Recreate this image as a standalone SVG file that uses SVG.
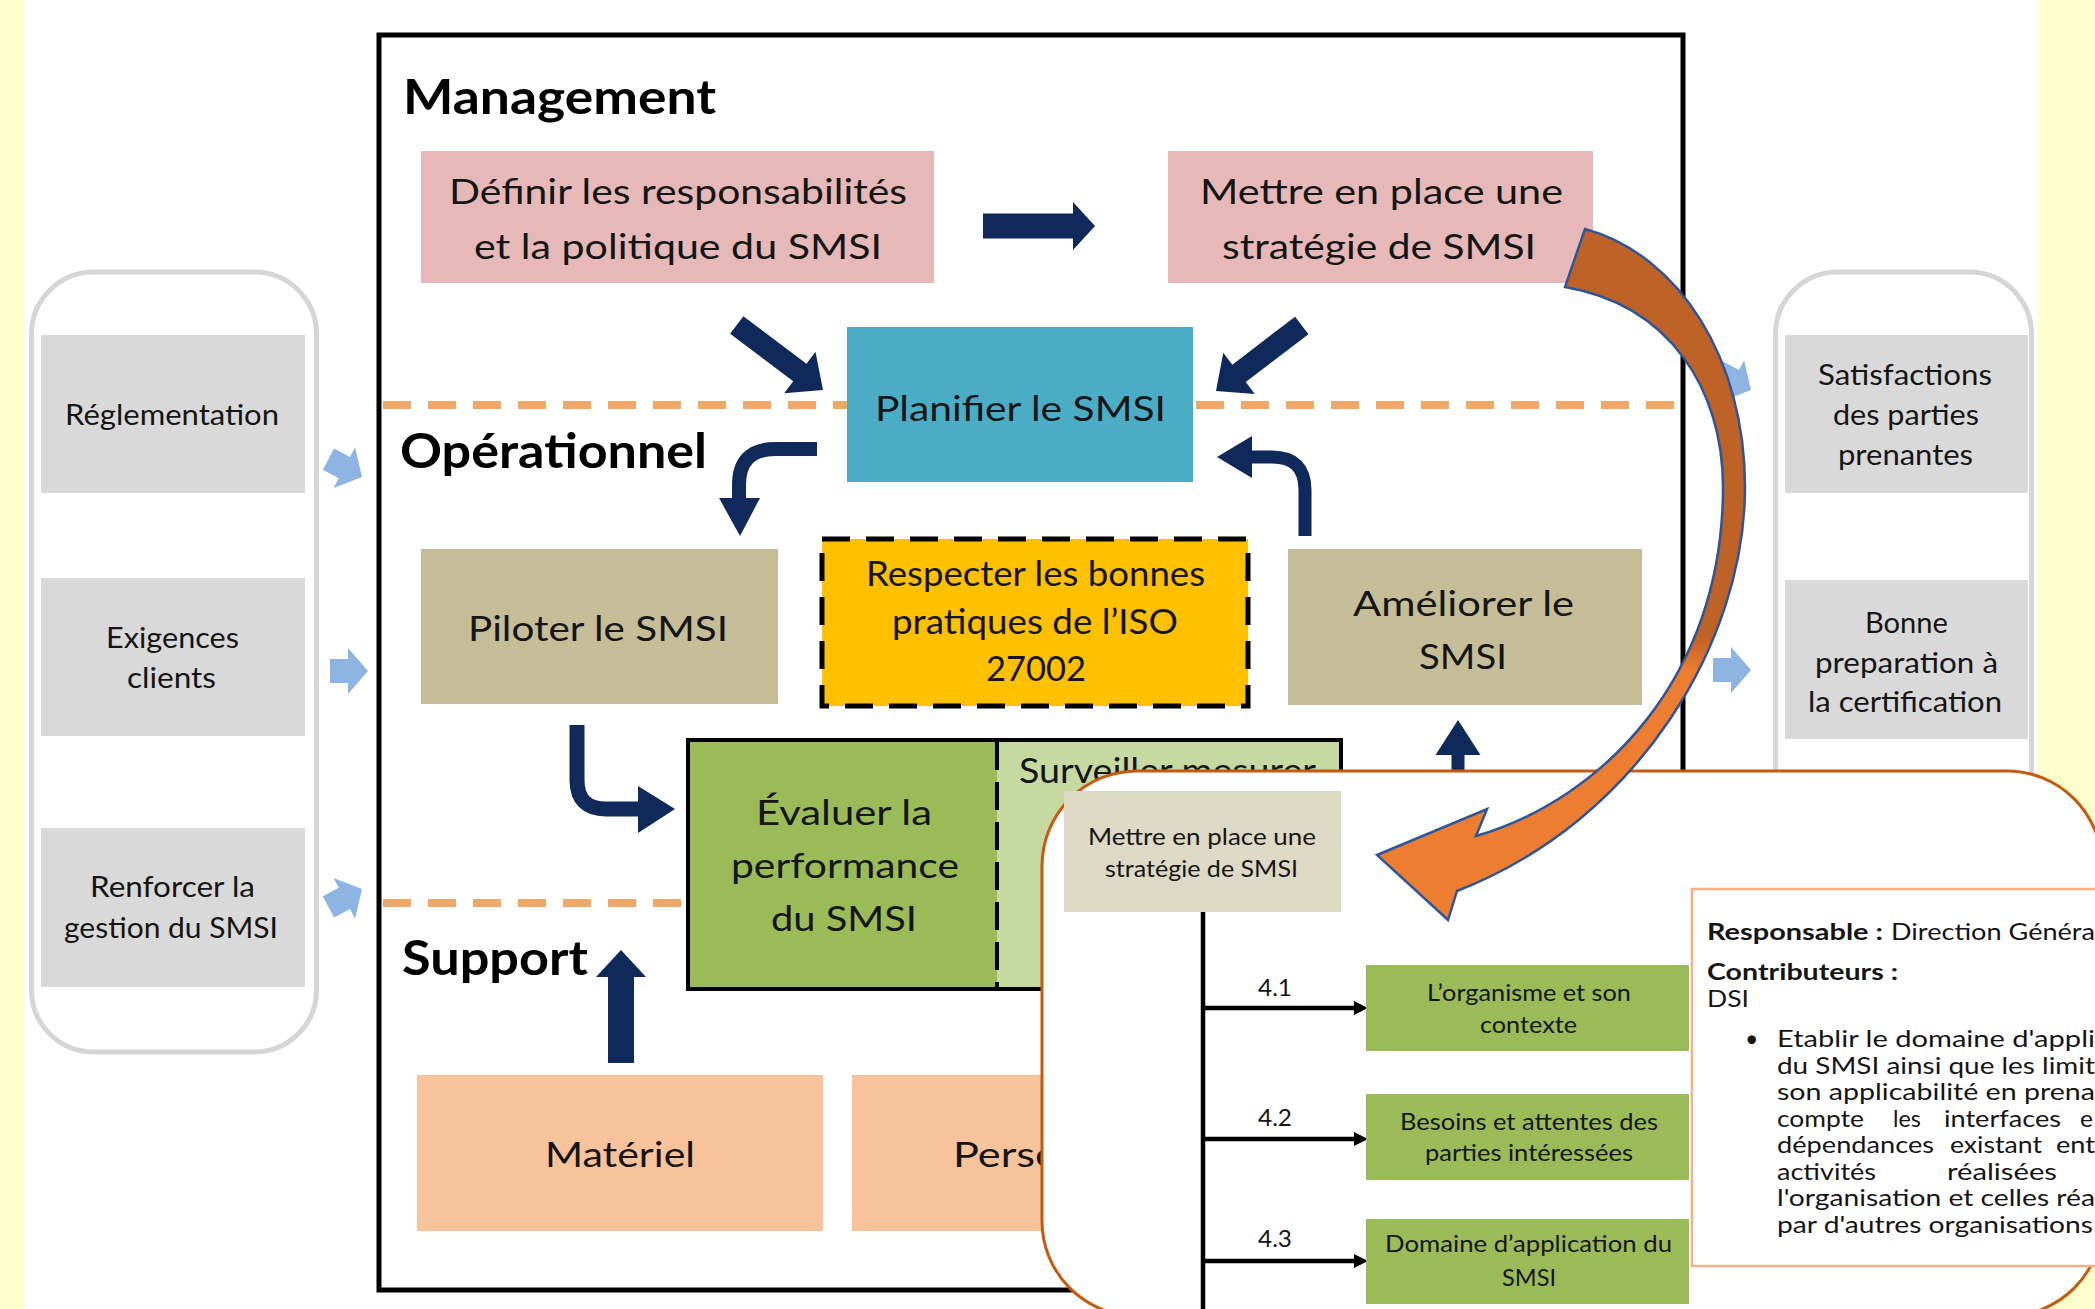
<svg xmlns="http://www.w3.org/2000/svg" width="2095" height="1309" viewBox="0 0 2095 1309">
<defs>
<style>
text{font-family:Lato,"Open Sans","Liberation Sans",sans-serif;fill:#151515}
.title{font-weight:700;font-size:48px;fill:#000}
.bx{font-size:35px}
.sd{font-size:29px}
.ov{font-size:23px}
.b{font-weight:700}
.navy{fill:#10295b}
.lb{fill:#8db4e2}
.dash{stroke:#f0a868;stroke-width:8;stroke-dasharray:28 17;fill:none}
</style>
<linearGradient id="og" gradientUnits="userSpaceOnUse" x1="0" y1="229" x2="0" y2="920">
<stop offset="0" stop-color="#bf6227"/>
<stop offset="0.59" stop-color="#bf6227"/>
<stop offset="0.64" stop-color="#ed7d31"/>
<stop offset="1" stop-color="#ed7d31"/>
</linearGradient>
</defs>

<rect x="0" y="0" width="2095" height="1309" fill="#ffffcc"/>
<rect x="24" y="0" width="2014" height="1309" fill="#ffffff"/>

<!-- side panels -->
<g id="panel-left">
<rect x="31.5" y="272" width="285" height="780" rx="62" fill="#fff" stroke="#d6d6d6" stroke-width="5"/>
</g>
<g id="panel-right">
<rect x="1775.5" y="272" width="256" height="780" rx="62" fill="#fff" stroke="#d6d6d6" stroke-width="5"/>
</g>
<g id="in-reglementation"><rect x="41" y="335" width="264" height="158" fill="#d9d9d9"/>
<text class="sd" x="65" y="425" textLength="214" lengthAdjust="spacingAndGlyphs">Réglementation</text></g>
<g id="in-exigences"><rect x="41" y="578" width="264" height="158" fill="#d9d9d9"/>
<text class="sd" x="106" y="648" textLength="133" lengthAdjust="spacingAndGlyphs">Exigences</text>
<text class="sd" x="127" y="688" textLength="89" lengthAdjust="spacingAndGlyphs">clients</text></g>
<g id="in-renforcer"><rect x="41" y="828" width="264" height="159" fill="#d9d9d9"/>
<text class="sd" x="90" y="897" textLength="165" lengthAdjust="spacingAndGlyphs">Renforcer la</text>
<text class="sd" x="64" y="938" textLength="214" lengthAdjust="spacingAndGlyphs">gestion du SMSI</text></g>
<g id="out-satisfactions"><rect x="1785" y="335" width="243" height="158" fill="#d9d9d9"/>
<text class="sd" x="1818" y="385" textLength="174" lengthAdjust="spacingAndGlyphs">Satisfactions</text>
<text class="sd" x="1833" y="425" textLength="146" lengthAdjust="spacingAndGlyphs">des parties</text>
<text class="sd" x="1838" y="465" textLength="135" lengthAdjust="spacingAndGlyphs">prenantes</text></g>
<g id="out-certification"><rect x="1785" y="580" width="243" height="159" fill="#d9d9d9"/>
<text class="sd" x="1865" y="633" textLength="83" lengthAdjust="spacingAndGlyphs">Bonne</text>
<text class="sd" x="1815" y="673" textLength="183" lengthAdjust="spacingAndGlyphs">preparation à</text>
<text class="sd" x="1808" y="712" textLength="194" lengthAdjust="spacingAndGlyphs">la certification</text></g>

<!-- main frame -->
<g id="frame">
<rect x="379" y="35" width="1304" height="1255" fill="#fff" stroke="#000" stroke-width="5"/>
<line class="dash" x1="383" y1="405" x2="847" y2="405"/>
<line class="dash" x1="1196" y1="405" x2="1680" y2="405"/>
<line class="dash" x1="383" y1="903" x2="686" y2="903"/>
<text class="title" x="403" y="114" textLength="313" lengthAdjust="spacingAndGlyphs">Management</text>
<text class="title" x="400" y="468" textLength="307" lengthAdjust="spacingAndGlyphs">Opérationnel</text>
<text class="title" x="402" y="975" textLength="186" lengthAdjust="spacingAndGlyphs">Support</text>
</g>

<g id="definir"><rect x="421" y="151" width="513" height="132" fill="#e6b9b8"/>
<text class="bx" x="449" y="204" textLength="458" lengthAdjust="spacingAndGlyphs">Définir les responsabilités</text>
<text class="bx" x="474" y="259" textLength="408" lengthAdjust="spacingAndGlyphs">et la politique du SMSI</text></g>
<g id="strategie"><rect x="1168" y="151" width="425" height="132" fill="#e6b9b8"/>
<text class="bx" x="1200" y="204" textLength="363" lengthAdjust="spacingAndGlyphs">Mettre en place une</text>
<text class="bx" x="1222" y="259" textLength="314" lengthAdjust="spacingAndGlyphs">stratégie de SMSI</text></g>
<g id="planifier"><rect x="847" y="327" width="346" height="155" fill="#4bacc6"/>
<text class="bx" x="875" y="421" textLength="291" lengthAdjust="spacingAndGlyphs">Planifier le SMSI</text></g>
<g id="piloter"><rect x="421" y="549" width="357" height="155" fill="#c4bd97"/>
<text class="bx" x="468" y="641" textLength="260" lengthAdjust="spacingAndGlyphs">Piloter le SMSI</text></g>
<g id="respecter"><rect x="822" y="539" width="426" height="167" fill="#ffc000" stroke="#000" stroke-width="5" stroke-dasharray="28 16"/>
<text class="bx" x="866" y="586" textLength="339" lengthAdjust="spacingAndGlyphs">Respecter les bonnes</text>
<text class="bx" x="892" y="634" textLength="286" lengthAdjust="spacingAndGlyphs">pratiques de l’ISO</text>
<text class="bx" x="986" y="681" textLength="100" lengthAdjust="spacingAndGlyphs">27002</text></g>
<g id="ameliorer"><rect x="1288" y="549" width="354" height="156" fill="#c4bd97"/>
<text class="bx" x="1353" y="616" textLength="221" lengthAdjust="spacingAndGlyphs">Améliorer le</text>
<text class="bx" x="1419" y="669" textLength="88" lengthAdjust="spacingAndGlyphs">SMSI</text></g>
<g id="evaluer">
<rect x="688" y="740" width="309" height="249" fill="#9bbb59"/>
<rect x="997" y="740" width="344" height="249" fill="#c6d9a0"/>
<rect x="688" y="740" width="653" height="249" fill="none" stroke="#000" stroke-width="4"/>
<line x1="997" y1="742" x2="997" y2="989" stroke="#000" stroke-width="4" stroke-dasharray="28 12"/>
<text class="bx" x="756" y="825" textLength="176" lengthAdjust="spacingAndGlyphs">Évaluer la</text>
<text class="bx" x="731" y="878" textLength="228" lengthAdjust="spacingAndGlyphs">performance</text>
<text class="bx" x="771" y="931" textLength="146" lengthAdjust="spacingAndGlyphs">du SMSI</text>
<text class="bx" x="1019" y="783" textLength="297" lengthAdjust="spacingAndGlyphs">Surveiller mesurer</text>
</g>
<g id="materiel"><rect x="417" y="1075" width="406" height="156" fill="#f8c39b"/>
<text class="bx" x="545" y="1167" textLength="150" lengthAdjust="spacingAndGlyphs">Matériel</text></g>
<g id="personnel"><rect x="852" y="1075" width="406" height="156" fill="#f8c39b"/>
<text class="bx" x="953" y="1167" textLength="188" lengthAdjust="spacingAndGlyphs">Personnel</text></g>

<!-- connectors -->
<g id="connectors">
<path class="lb" transform="translate(362,477) rotate(28)" d="M-38,-12 L-20,-12 L-20,-23 L0,0 L-20,23 L-20,12 L-38,12 Z"/>
<path class="lb" transform="translate(368,671)" d="M-38,-12 L-20,-12 L-20,-23 L0,0 L-20,23 L-20,12 L-38,12 Z"/>
<path class="lb" transform="translate(362,889) rotate(-28)" d="M-38,-12 L-20,-12 L-20,-23 L0,0 L-20,23 L-20,12 L-38,12 Z"/>
<path class="lb" transform="translate(1751,390) rotate(28)" d="M-38,-12 L-20,-12 L-20,-23 L0,0 L-20,23 L-20,12 L-38,12 Z"/>
<path class="lb" transform="translate(1751,670)" d="M-38,-12 L-20,-12 L-20,-23 L0,0 L-20,23 L-20,12 L-38,12 Z"/>

<path class="navy" transform="translate(1095,226)" d="M-112,-12.5 L-22,-12.5 L-22,-24 L0,0 L-22,24 L-22,12.5 L-112,12.5 Z"/>
<path class="navy" transform="translate(823,390) rotate(37)" d="M-108,-11 L-29,-11 L-29,-26 L0,0 L-29,26 L-29,11 L-108,11 Z"/>
<path class="navy" transform="translate(1216,391) rotate(142.6)" d="M-108,-11 L-29,-11 L-29,-26 L0,0 L-29,26 L-29,11 L-108,11 Z"/>
<path class="navy" transform="translate(621,950) rotate(-90)" d="M-113,-13 L-27,-13 L-27,-25 L0,0 L-27,25 L-27,13 L-113,13 Z"/>
<path class="navy" transform="translate(1458,720) rotate(-90)" d="M-55,-6.5 L-35,-6.5 L-35,-22.5 L0,0 L-35,22.5 L-35,6.5 L-55,6.5 Z"/>

<path d="M817,449 L775,449 Q739,449 739,485 L739,500" fill="none" stroke="#10295b" stroke-width="14"/>
<polygon class="navy" points="719,498 760,498 740,536"/>
<path d="M1305,536 L1305,490 Q1305,457 1272,457 L1250,457" fill="none" stroke="#10295b" stroke-width="13"/>
<polygon class="navy" points="1252,436 1252,478 1217,457"/>
<path d="M577,725 L577,780 Q577,809 606,809 L640,809" fill="none" stroke="#10295b" stroke-width="15"/>
<polygon class="navy" points="638,786 638,833 675,809"/>
</g>

<!-- zoom overlay -->
<g id="overlay">
<rect x="1042" y="771" width="1060" height="545" rx="95" fill="#fff" stroke="#c55a11" stroke-width="3"/>
<g id="ov-strategie"><rect x="1064" y="791" width="277" height="121" fill="#ddd9c4"/>
<text class="ov" x="1088" y="845" textLength="228" lengthAdjust="spacingAndGlyphs">Mettre en place une</text>
<text class="ov" x="1105" y="877" textLength="193" lengthAdjust="spacingAndGlyphs">stratégie de SMSI</text></g>
<g id="ov-connectors" stroke="#000" stroke-width="4.5" fill="none">
<line x1="1203" y1="912" x2="1203" y2="1312"/>
<line x1="1201" y1="1008" x2="1356" y2="1008"/>
<line x1="1201" y1="1139" x2="1356" y2="1139"/>
<line x1="1201" y1="1261" x2="1356" y2="1261"/>
<polygon points="1354,1001 1368,1008 1354,1015" fill="#000" stroke="none"/>
<polygon points="1354,1132 1368,1139 1354,1146" fill="#000" stroke="none"/>
<polygon points="1354,1254 1368,1261 1354,1268" fill="#000" stroke="none"/>
</g>
<text class="ov" x="1258" y="996" textLength="34" lengthAdjust="spacingAndGlyphs">4.1</text>
<text class="ov" x="1258" y="1126" textLength="34" lengthAdjust="spacingAndGlyphs">4.2</text>
<text class="ov" x="1258" y="1247" textLength="34" lengthAdjust="spacingAndGlyphs">4.3</text>
<g id="ov-organisme"><rect x="1366" y="965" width="323" height="86" fill="#9bbb59"/>
<text class="ov" x="1427" y="1001" textLength="204" lengthAdjust="spacingAndGlyphs">L’organisme et son</text>
<text class="ov" x="1480" y="1033" textLength="97" lengthAdjust="spacingAndGlyphs">contexte</text></g>
<g id="ov-besoins"><rect x="1366" y="1094" width="323" height="86" fill="#9bbb59"/>
<text class="ov" x="1400" y="1130" textLength="258" lengthAdjust="spacingAndGlyphs">Besoins et attentes des</text>
<text class="ov" x="1425" y="1161" textLength="208" lengthAdjust="spacingAndGlyphs">parties intéressées</text></g>
<g id="ov-domaine"><rect x="1366" y="1219" width="323" height="85" fill="#9bbb59"/>
<text class="ov" x="1385" y="1252" textLength="287" lengthAdjust="spacingAndGlyphs">Domaine d’application du</text>
<text class="ov" x="1502" y="1286" textLength="54" lengthAdjust="spacingAndGlyphs">SMSI</text></g>
<g id="ov-fiche">
<rect x="1692" y="889" width="420" height="377" fill="#fff" stroke="#f4b183" stroke-width="2.5"/>
<text class="ov b" x="1707" y="940" textLength="176" lengthAdjust="spacingAndGlyphs">Responsable :</text>
<text class="ov" x="1891" y="940" textLength="204" lengthAdjust="spacingAndGlyphs">Direction Généra</text>
<text class="ov b" x="1707" y="980" textLength="191" lengthAdjust="spacingAndGlyphs">Contributeurs :</text>
<text class="ov" x="1707" y="1007" textLength="42" lengthAdjust="spacingAndGlyphs">DSI</text>
<text class="ov" x="1745" y="1047">•</text>
<text class="ov" x="1777" y="1047" textLength="318" lengthAdjust="spacingAndGlyphs">Etablir le domaine d'appli</text>
<text class="ov" x="1777" y="1074" textLength="318" lengthAdjust="spacingAndGlyphs">du SMSI ainsi que les limit</text>
<text class="ov" x="1777" y="1100" textLength="318" lengthAdjust="spacingAndGlyphs">son applicabilité en prena</text>
<text class="ov" x="1777" y="1127" textLength="87" lengthAdjust="spacingAndGlyphs">compte</text>
<text class="ov" x="1893" y="1127" textLength="28" lengthAdjust="spacingAndGlyphs">les</text>
<text class="ov" x="1944" y="1127" textLength="117" lengthAdjust="spacingAndGlyphs">interfaces</text>
<text class="ov" x="2080" y="1127" textLength="13" lengthAdjust="spacingAndGlyphs">e</text>
<text class="ov" x="1777" y="1153" textLength="157" lengthAdjust="spacingAndGlyphs">dépendances</text>
<text class="ov" x="1950" y="1153" textLength="92" lengthAdjust="spacingAndGlyphs">existant</text>
<text class="ov" x="2056" y="1153" textLength="39" lengthAdjust="spacingAndGlyphs">ent</text>
<text class="ov" x="1777" y="1180" textLength="99" lengthAdjust="spacingAndGlyphs">activités</text>
<text class="ov" x="1947" y="1180" textLength="110" lengthAdjust="spacingAndGlyphs">réalisées</text>
<text class="ov" x="1777" y="1206" textLength="318" lengthAdjust="spacingAndGlyphs">l'organisation et celles réa</text>
<text class="ov" x="1777" y="1233" textLength="316" lengthAdjust="spacingAndGlyphs">par d'autres organisations</text>
</g>
</g>

<!-- big curved arrow -->
<g id="zoom-arrow">
<path d="M1585,229 C1680,255 1745,360 1745,487 C1745,640 1640,820 1457,891 L1448,920 L1377,855 L1487,809 L1476,836 C1600,800 1723,680 1723,487 C1723,390 1670,305 1565,287 Z" fill="url(#og)" stroke="#2e5597" stroke-width="2.5" stroke-linejoin="miter"/>
</g>
</svg>
